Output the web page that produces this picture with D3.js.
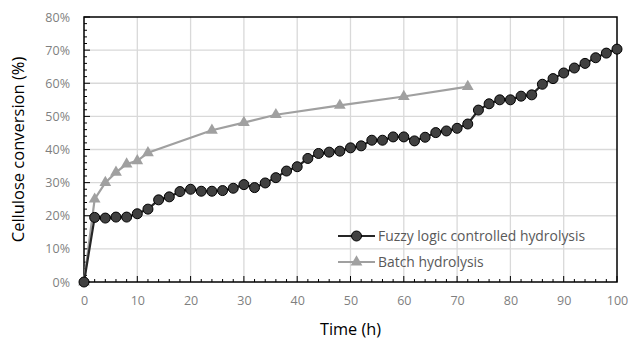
<!DOCTYPE html>
<html>
<head>
<meta charset="utf-8">
<script src="https://cdn.jsdelivr.net/npm/d3@7"></script>
<style>
body{margin:0;background:#fff;}
svg text{font-family:"Open Sans","Noto Sans",sans-serif;}
</style>
</head>
<body>
<div class="chart"></div>
<script>
// fuzzy logic controlled: sampled every 2 h
const fuzzyTime = d3.range(0, 101, 2);
const fuzzyConv = [0, 19.5, 19.3, 19.6, 19.6, 20.6, 22.0, 24.8, 25.7, 27.3,
    28.0, 27.4, 27.4, 27.6, 28.3, 29.4, 28.5, 29.9, 31.5, 33.5,
    34.8, 37.3, 38.8, 39.2, 39.5, 40.5, 41.1, 42.8, 42.8, 43.8,
    43.8, 42.6, 43.7, 45.1, 45.6, 46.4, 47.7, 51.9, 53.8, 55.0,
    55.0, 56.1, 56.5, 59.7, 61.4, 63.1, 64.6, 66.0, 67.7, 69.1, 70.3];
// batch
const batchTime = [0, 2, 4, 6, 8, 10, 12, 24, 30, 36, 48, 60, 72];
const batchConv = [0, 25.0, 30.0, 33.1, 35.6, 36.6, 39.0, 45.8, 48.1, 50.5, 53.3, 56.0, 59.0];

const xTicks = [0, 10, 20, 30, 40, 50, 60, 70, 80, 90, 100];
const yTicks = [0, 10, 20, 30, 40, 50, 60, 70, 80];
const seriesNames = ['Fuzzy logic controlled hydrolysis', 'Batch hydrolysis'];

const fuzzy = fuzzyTime.map((t, i) => ({t: t, v: fuzzyConv[i]}));
const batch = batchTime.map((t, i) => ({t: t, v: batchConv[i]}));

const W = 630, H = 339;
const m = {top: 17, right: 13, bottom: 57, left: 84};
const w = W - m.left - m.right;
const h = H - m.top - m.bottom;

const svg = d3.select('.chart').append('svg').attr('width', W).attr('height', H);
const g = svg.append('g').attr('transform', `translate(${m.left},${m.top})`);

const x = d3.scaleLinear().domain([0, 100]).range([0, w]);
const y = d3.scaleLinear().domain([0, 80]).range([h, 0]);

// grid
g.append('g').selectAll('line').data(xTicks.slice(1, -1)).enter().append('line')
    .attr('x1', d => x(d)).attr('x2', d => x(d)).attr('y1', 0).attr('y2', h)
    .style('stroke', '#d9d9d9').style('stroke-width', 1.3);
g.append('g').selectAll('line').data(yTicks.slice(1, -1)).enter().append('line')
    .attr('x1', 0).attr('x2', w).attr('y1', d => y(d)).attr('y2', d => y(d))
    .style('stroke', '#d9d9d9').style('stroke-width', 1.3);

// minor ticks (inside)
g.append('g').selectAll('line').data(d3.range(0, 101, 2)).enter().append('line')
    .attr('x1', d => x(d)).attr('x2', d => x(d)).attr('y1', h)
    .attr('y2', d => h - (d % 10 === 0 ? 6 : 3))
    .style('stroke', '#000').style('stroke-width', 1);
g.append('g').selectAll('line').data(d3.range(0, 81, 2)).enter().append('line')
    .attr('y1', d => y(d)).attr('y2', d => y(d)).attr('x1', 0)
    .attr('x2', d => (d % 10 === 0 ? 6 : 3))
    .style('stroke', '#000').style('stroke-width', 1);

// frame
g.append('rect').attr('width', w).attr('height', h)
    .style('fill', 'none').style('stroke', '#000').style('stroke-width', 1.5);

// tick labels
const xAxis = d3.axisBottom(x).tickValues(xTicks).tickSize(0).tickPadding(14);
g.append('g').attr('transform', `translate(0,${h})`).call(xAxis)
    .call(a => a.select('.domain').remove())
    .selectAll('text').style('font-size', '12.5px').style('fill', '#7f7f7f');
const yAxis = d3.axisLeft(y).tickValues(yTicks).tickSize(0).tickPadding(14)
    .tickFormat(d => d + '%');
g.append('g').call(yAxis)
    .call(a => a.select('.domain').remove())
    .selectAll('text').style('font-size', '12.5px').style('fill', '#7f7f7f');

// axis titles
svg.append('text').attr('x', m.left + w / 2).attr('y', 335)
    .attr('text-anchor', 'middle').style('font-size', '16.3px').style('fill', '#000')
    .text('Time (h)');
svg.append('text').attr('transform', `translate(24,${m.top + h / 2}) rotate(-90)`)
    .attr('text-anchor', 'middle').style('font-size', '16.5px').style('fill', '#000')
    .text('Cellulose conversion (%)');

const line = d3.line().x(d => x(d.t)).y(d => y(d.v));
const tri = d3.symbol().type(d3.symbolTriangle).size(60);

// batch series
g.append('path').datum(batch).attr('d', line)
    .style('fill', 'none').style('stroke', '#a0a0a0').style('stroke-width', 2.2);
g.selectAll('.tri').data(batch).enter().append('path').attr('class', 'tri')
    .attr('d', tri).attr('transform', d => `translate(${x(d.t)},${y(d.v)})`)
    .style('fill', '#a0a0a0');

// fuzzy series
g.append('path').datum(fuzzy).attr('d', line)
    .style('fill', 'none').style('stroke', '#262626').style('stroke-width', 2.2);
g.selectAll('.dot').data(fuzzy).enter().append('circle').attr('class', 'dot')
    .attr('cx', d => x(d.t)).attr('cy', d => y(d.v)).attr('r', 5)
    .style('fill', '#404040').style('stroke', '#000').style('stroke-width', 1);

// legend
const leg = svg.append('g').attr('transform', 'translate(338,236)');
leg.append('line').attr('x1', 0).attr('x2', 37).style('stroke', '#262626').style('stroke-width', 2.2);
leg.append('circle').attr('cx', 18.5).attr('r', 5)
    .style('fill', '#404040').style('stroke', '#000');
leg.append('line').attr('x1', 0).attr('x2', 37).attr('y1', 26).attr('y2', 26)
    .style('stroke', '#a0a0a0').style('stroke-width', 2.2);
leg.append('path').attr('d', tri).attr('transform', 'translate(18.5,26)').style('fill', '#a0a0a0');
leg.selectAll('.lt').data(seriesNames).enter().append('text').attr('class', 'lt')
    .attr('x', 40).attr('y', (d, i) => i * 26).attr('dy', '0.35em')
    .style('font-size', '13.9px').style('fill', '#595959').text(d => d);
</script>
</body>
</html>
